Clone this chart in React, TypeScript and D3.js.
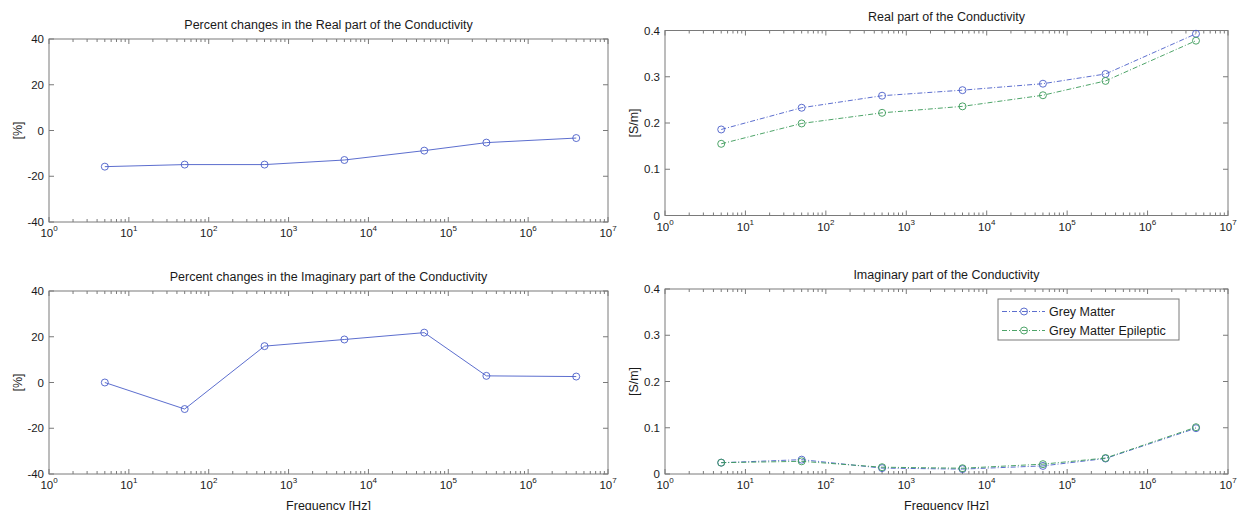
import React from "react";
import * as d3 from "d3";

// frequencies of the measurements [Hz]
const freqs = [5, 50, 500, 5000, 50000, 300000, 4000000];

// percent changes (epileptic vs normal)
const pctReal = [-15.8, -14.9, -14.9, -12.9, -8.8, -5.3, -3.3];
const pctImag = [0, -11.6, 15.9, 18.8, 21.8, 2.9, 2.6];

// conductivity [S/m]
const gmReal = [0.186, 0.233, 0.259, 0.271, 0.285, 0.306, 0.393];
const epiReal = [0.155, 0.199, 0.222, 0.236, 0.26, 0.291, 0.378];
const gmImag = [0.0245, 0.031, 0.0127, 0.0106, 0.0175, 0.0335, 0.099];
const epiImag = [0.0245, 0.0274, 0.0147, 0.0125, 0.0213, 0.0345, 0.1012];

const xTickExps = [0, 1, 2, 3, 4, 5, 6, 7];
const pctTicks = [-40, -20, 0, 20, 40];
const condTicks = [0, 0.1, 0.2, 0.3, 0.4];

const legendNames = ["Grey Matter", "Grey Matter Epileptic"];

const BLUE = "#4a5ec8";
const GREEN = "#3a9a58";
const AXIS = "#7a7a7a";
const TEXT = "#1a1a1a";
const FONT = "'Liberation Sans', Arial, Helvetica, sans-serif";

type Series = { values: number[]; color: string; dash?: string };

type PanelProps = {
  left: number;
  top: number;
  right: number;
  bottom: number;
  title: string;
  ylabel: string;
  yDomain: [number, number];
  yTicks: number[];
  series: Series[];
  xlabel?: string;
  legend?: boolean;
};

const Panel = (props: PanelProps) => {
  const { left, top, right, bottom, title, ylabel, yDomain, yTicks, series } = props;

  const x = d3.scaleLog().domain([1, 1e7]).range([left, right]);
  const y = d3.scaleLinear().domain(yDomain).range([bottom, top]);

  const line = d3
    .line<number>()
    .x((_, i) => x(freqs[i]))
    .y((d) => y(d));

  // minor ticks 2..9 in each decade
  const minor: number[] = [];
  for (let e = 0; e < 7; e++)
    for (let m = 2; m < 10; m++) minor.push(m * Math.pow(10, e));

  const fmt = (v: number) => (v === 0 ? "0" : String(v));

  return (
    <g>
      {/* title */}
      <text
        x={(left + right) / 2}
        y={top - 10}
        textAnchor="middle"
        fontSize={12.5}
        fill={TEXT}
      >
        {title}
      </text>

      {/* ticks */}
      {minor.map((v, i) => (
        <g key={"m" + i} stroke={AXIS} strokeWidth={1}>
          <line x1={x(v)} x2={x(v)} y1={bottom} y2={bottom - 3} />
          <line x1={x(v)} x2={x(v)} y1={top} y2={top + 3} />
        </g>
      ))}
      {xTickExps.map((e) => {
        const px = x(Math.pow(10, e));
        return (
          <g key={"x" + e}>
            <line x1={px} x2={px} y1={bottom} y2={bottom - 5} stroke={AXIS} />
            <line x1={px} x2={px} y1={top} y2={top + 5} stroke={AXIS} />
            <text x={px} y={bottom + 15} textAnchor="middle" fontSize={11.5} fill={TEXT}>
              <tspan>10</tspan>
              <tspan dy={-6} fontSize={8}>
                {e}
              </tspan>
            </text>
          </g>
        );
      })}
      {yTicks.map((v) => (
        <g key={"y" + v}>
          <line x1={left} x2={left + 5} y1={y(v)} y2={y(v)} stroke={AXIS} />
          <line x1={right} x2={right - 5} y1={y(v)} y2={y(v)} stroke={AXIS} />
          <text
            x={left - 5}
            y={y(v)}
            dy="0.35em"
            textAnchor="end"
            fontSize={11.5}
            fill={TEXT}
          >
            {fmt(v)}
          </text>
        </g>
      ))}

      {/* box */}
      <rect
        x={left}
        y={top}
        width={right - left}
        height={bottom - top}
        fill="none"
        stroke={AXIS}
        strokeWidth={1}
      />

      {/* y label */}
      <text
        transform={`translate(${left - 27},${(top + bottom) / 2}) rotate(-90)`}
        textAnchor="middle"
        fontSize={12.5}
        fill={TEXT}
      >
        {ylabel}
      </text>

      {props.xlabel && (
        <text
          x={(left + right) / 2}
          y={bottom + 36}
          textAnchor="middle"
          fontSize={12.5}
          fill={TEXT}
        >
          {props.xlabel}
        </text>
      )}

      {/* series */}
      {series.map((s, si) => (
        <g key={"s" + si}>
          <path
            d={line(s.values) || ""}
            fill="none"
            stroke={s.color}
            strokeWidth={0.9}
            strokeDasharray={s.dash}
          />
          {s.values.map((v, i) => (
            <circle
              key={i}
              cx={x(freqs[i])}
              cy={y(v)}
              r={3.5}
              fill="none"
              stroke={s.color}
              strokeWidth={0.9}
            />
          ))}
        </g>
      ))}

      {props.legend && (
        <g>
          <rect
            x={998}
            y={299}
            width={181}
            height={41}
            fill="white"
            stroke={AXIS}
          />
          {series.map((s, i) => {
            const ly = 311.5 + i * 19;
            return (
              <g key={"l" + i}>
                <line
                  x1={1002}
                  x2={1045}
                  y1={ly}
                  y2={ly}
                  stroke={s.color}
                  strokeWidth={0.9}
                  strokeDasharray={s.dash}
                />
                <circle cx={1024} cy={ly} r={3.5} fill="none" stroke={s.color} strokeWidth={0.9} />
                <text x={1049} y={ly} dy="0.35em" fontSize={12.5} fill={TEXT}>
                  {legendNames[i]}
                </text>
              </g>
            );
          })}
        </g>
      )}
    </g>
  );
};

const DASHDOT = "5,2,1,2";

export default function App() {
  return (
    <div style={{ position: "fixed", left: 0, top: 0 }}>
      <svg width={1237} height={510} style={{ display: "block", background: "white", fontFamily: FONT }}>
        <Panel
          left={49}
          top={39}
          right={608}
          bottom={222}
          title="Percent changes in the Real part of the Conductivity"
          ylabel="[%]"
          yDomain={[-40, 40]}
          yTicks={pctTicks}
          series={[{ values: pctReal, color: BLUE }]}
        />
        <Panel
          left={665}
          top={30.5}
          right={1228}
          bottom={215.5}
          title="Real part of the Conductivity"
          ylabel="[S/m]"
          yDomain={[0, 0.4]}
          yTicks={condTicks}
          series={[
            { values: gmReal, color: BLUE, dash: DASHDOT },
            { values: epiReal, color: GREEN, dash: DASHDOT },
          ]}
        />
        <Panel
          left={49}
          top={291}
          right={608}
          bottom={474}
          title="Percent changes in the Imaginary part of the Conductivity"
          ylabel="[%]"
          yDomain={[-40, 40]}
          yTicks={pctTicks}
          series={[{ values: pctImag, color: BLUE }]}
          xlabel="Frequency [Hz]"
        />
        <Panel
          left={665}
          top={289}
          right={1228}
          bottom={474}
          title="Imaginary part of the Conductivity"
          ylabel="[S/m]"
          yDomain={[0, 0.4]}
          yTicks={condTicks}
          series={[
            { values: gmImag, color: BLUE, dash: DASHDOT },
            { values: epiImag, color: GREEN, dash: DASHDOT },
          ]}
          xlabel="Frequency [Hz]"
          legend
        />
      </svg>
    </div>
  );
}
